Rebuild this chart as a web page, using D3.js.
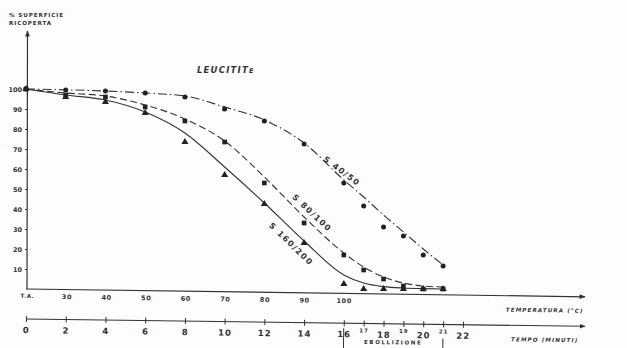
<!DOCTYPE html>
<html>
<head>
<meta charset="utf-8">
<script src="https://cdn.jsdelivr.net/npm/d3@7"></script>
<style>
  html, body { margin: 0; padding: 0; background: #fdfdfd; }
  svg { display: block; }
  text { font-family: "DejaVu Sans", sans-serif; fill: #333; }
</style>
</head>
<body>
<svg id="chart" width="627" height="348"></svg>
<script>
// ---- data ----
const times = [0, 2, 4, 6, 8, 10, 12, 14, 16, 17, 18, 19, 20, 21];
const s4050 = [100, 99.5, 99, 98, 96, 90, 84, 72.5, 53, 41.5, 31, 26.5, 17, 11.5];
const s80100 = [100, 97, 96, 91, 84, 73.5, 53, 33, 17, 9.5, 5, 1.5, 0, 0];
const s160200 = [100, 96, 93.5, 88, 73.5, 57, 42.5, 23, 2.5, 0, 0, 0, 0, 0];

// fitted curves drawn through the points
const fitTimes = [0, 2, 4, 6, 8, 10, 12, 14, 16, 17, 18, 19, 20, 21];
const fit4050 = [100, 99.6, 99, 98, 96.5, 91, 84.5, 73, 54.5, 46, 37, 28.5, 20, 12];
const fit80100 = [100, 98, 96.5, 92, 85, 74, 56, 36, 18, 11, 6, 3, 1.5, 1];
const fit160200 = [100, 97, 94.5, 88.5, 78, 61, 43, 24, 7, 3, 1.2, 0.5, 0.2, 0];

const timeTicks = [0, 2, 4, 6, 8, 10, 12, 14, 16, 17, 18, 19, 20, 21, 22];
const minorTimeTicks = [17, 19, 21];
const tempTicks = [20, 30, 40, 50, 60, 70, 80, 90, 100];
const tempLabels = ["T.A.", "30", "40", "50", "60", "70", "80", "90", "100"];
const yTicks = [10, 20, 30, 40, 50, 60, 70, 80, 90, 100];

const seriesNames = ["S 40/50", "S 80/100", "S 160/200"];

// ---- drawing ----
const svg = d3.select("#chart");
const ink = "#333";

const x = d3.scaleLinear().domain([0, 22]).range([26, 463]);
const xT = d3.scaleLinear().domain([20, 100]).range([x(0) + 1, x(16)]);
const y = d3.scaleLinear().domain([0, 100]).range([289, 89]);

const defs = svg.append("defs");
defs.append("marker").attr("id", "arrow")
  .attr("viewBox", "0 0 10 10").attr("refX", 9).attr("refY", 5)
  .attr("markerWidth", 6).attr("markerHeight", 5).attr("orient", "auto")
  .append("path").attr("d", "M0,1 L10,5 L0,9 Z").attr("fill", ink);

// Y axis
svg.append("line").attr("x1", 27).attr("y1", y(0)).attr("x2", 27.5).attr("y2", 31)
  .attr("stroke", ink).attr("stroke-width", 1.2).attr("marker-end", "url(#arrow)");
const yAxis = d3.axisLeft(y).tickValues(yTicks).tickSize(2).tickPadding(3)
  .tickFormat(d3.format("d"));
const gy = svg.append("g").attr("transform", "translate(27,0)").call(yAxis);
gy.select(".domain").remove();
gy.selectAll("line").attr("stroke", ink);
gy.selectAll("text").attr("font-size", 6.5).attr("font-weight", "bold").attr("fill", "#444");

// Y title
svg.append("text").attr("x", 9).attr("y", 17).attr("font-size", 5.6)
  .attr("font-weight", "bold").attr("letter-spacing", 0.9).text("% SUPERFICIE");
svg.append("text").attr("x", 9).attr("y", 25).attr("font-size", 5.6)
  .attr("font-weight", "bold").attr("letter-spacing", 0.9).text("RICOPERTA");

// Temperature axis (scan slightly tilted)
const gT = svg.append("g").attr("transform", "translate(0,289) rotate(0.8,27,0)");
gT.append("line").attr("x1", 26).attr("y1", 0).attr("x2", 585).attr("y2", 0)
  .attr("stroke", ink).attr("stroke-width", 1.2).attr("marker-end", "url(#arrow)");
const tAxis = d3.axisBottom(xT).tickValues(tempTicks).tickSize(0).tickPadding(5)
  .tickFormat((d, i) => tempLabels[i]);
gT.call(tAxis);
gT.select(".domain").remove();
gT.selectAll(".tick text").attr("font-size", 6.5).attr("font-weight", "bold")
  .attr("fill", "#444").attr("letter-spacing", 0.6);
gT.selectAll(".tick").filter(d => d === 20).select("text").attr("font-size", 5.5);
gT.append("text").attr("x", 545).attr("y", 16).attr("font-size", 5.6)
  .attr("font-weight", "bold").attr("font-style", "italic").attr("letter-spacing", 1.1)
  .text("TEMPERATURA (°C)");

// Time axis
const gt = svg.append("g").attr("transform", "translate(0,319) rotate(0.75,26,0)");
gt.append("line").attr("x1", x(0)).attr("y1", 0).attr("x2", 585).attr("y2", 0)
  .attr("stroke", ink).attr("stroke-width", 1.1).attr("marker-end", "url(#arrow)");
const timeAxis = d3.axisBottom(x).tickValues(timeTicks).tickSize(3).tickPadding(5)
  .tickFormat(d3.format("d"));
gt.call(timeAxis);
gt.select(".domain").remove();
gt.selectAll(".tick line").attr("y1", -3).attr("stroke", ink);
gt.selectAll(".tick text").attr("font-size", 8.5).attr("font-weight", "bold")
  .attr("fill", "#444").attr("letter-spacing", 1);
gt.selectAll(".tick").filter(d => minorTimeTicks.includes(d)).select("text")
  .attr("font-size", 5.5).attr("dy", "0.2em");
gt.append("text").attr("x", 545).attr("y", 16).attr("font-size", 5.6)
  .attr("font-weight", "bold").attr("font-style", "italic").attr("letter-spacing", 1.1)
  .text("TEMPO (MINUTI)");
// boiling markers
gt.append("line").attr("x1", x(16)).attr("x2", x(16)).attr("y1", 5).attr("y2", 40)
  .attr("stroke", ink).attr("stroke-width", 1);
gt.append("line").attr("x1", x(21)).attr("x2", x(21)).attr("y1", 14).attr("y2", 40)
  .attr("stroke", ink).attr("stroke-width", 1);
gt.append("text").attr("x", (x(16) + x(21)) / 2).attr("y", 20.5).attr("text-anchor", "middle")
  .attr("font-size", 5.5).attr("font-weight", "bold").attr("letter-spacing", 1.6)
  .text("EBOLLIZIONE");

// Title
svg.append("text").attr("x", 197).attr("y", 73)
  .attr("font-family", "'DejaVu Serif', serif").attr("font-size", 8.5)
  .attr("font-weight", "bold").attr("font-style", "italic").attr("letter-spacing", 1.2)
  .text("LEUCITIT").append("tspan").attr("font-size", 6.5).text("E");

// Curves
const line = d3.line().x(d => x(d[0])).y(d => y(d[1])).curve(d3.curveMonotoneX);
const fits = [fit4050, fit80100, fit160200];
const dashes = ["9,3,1.5,3", "7,3.5", null];
fits.forEach((f, i) => {
  svg.append("path").datum(fitTimes.map((t, j) => [t, f[j]]))
    .attr("d", line).attr("fill", "none").attr("stroke", ink)
    .attr("stroke-width", 1.1).attr("stroke-dasharray", dashes[i]);
});

// Points
const series = [s4050, s80100, s160200];
const symbols = [d3.symbolCircle, d3.symbolSquare, d3.symbolTriangle];
const sizes = [20, 22, 22];
series.forEach((s, i) => {
  svg.append("g").selectAll("path").data(times.map((t, j) => [t, s[j]]))
    .join("path")
    .attr("transform", d => `translate(${x(d[0])},${y(d[1])})`)
    .attr("d", d3.symbol().type(symbols[i]).size(sizes[i]))
    .attr("fill", "#222");
});

// Curve labels (rotated along the curves)
const labelPos = [
  { t: 15.9, v: 59, a: 37 },
  { t: 14.4, v: 38, a: 43 },
  { t: 13.35, v: 22.5, a: 44 }
];
labelPos.forEach((p, i) => {
  svg.append("text")
    .attr("transform", `translate(${x(p.t)},${y(p.v)}) rotate(${p.a})`)
    .attr("text-anchor", "middle").attr("dy", "0.35em")
    .attr("font-size", 8).attr("font-weight", "bold")
    .attr("letter-spacing", 1.4).attr("fill", "#444")
    .text(seriesNames[i]);
});
</script>
</body>
</html>
